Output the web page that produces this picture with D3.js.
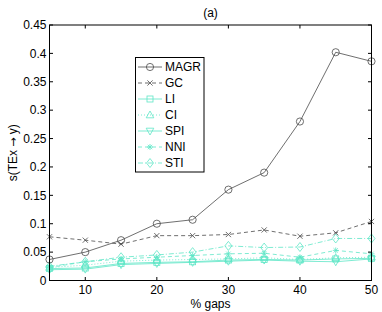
<!DOCTYPE html>
<html><head><meta charset="utf-8">
<script src="https://cdn.jsdelivr.net/npm/d3@7"></script>
<style>body{margin:0;background:#fff}svg{display:block}text{font-family:"Liberation Sans",Arial,sans-serif}</style>
</head><body>
<svg id="c" width="382" height="312"></svg>
<script>
const gaps = [5,10,15,20,25,30,35,40,45,50];
const MAGR = [0.037,0.050,0.071,0.100,0.107,0.160,0.190,0.280,0.402,0.386];
const GC   = [0.077,0.071,0.064,0.079,0.079,0.081,0.089,0.078,0.084,0.104];
const LI   = [0.021,0.022,0.030,0.032,0.033,0.036,0.037,0.036,0.038,0.039];
const CI   = [0.023,0.027,0.034,0.036,0.037,0.038,0.040,0.037,0.040,0.041];
const SPI  = [0.019,0.020,0.028,0.030,0.032,0.034,0.036,0.034,0.033,0.038];
const NNI  = [0.023,0.033,0.038,0.041,0.044,0.047,0.048,0.041,0.053,0.047];
const STI  = [0.025,0.033,0.041,0.045,0.050,0.061,0.058,0.059,0.074,0.074];
const xTicks = [10,20,30,40,50];
const yTicks = [0,0.05,0.1,0.15,0.2,0.25,0.3,0.35,0.4,0.45];
const yTickLabels = ["0","0.05","0.1","0.15","0.2","0.25","0.3","0.35","0.4","0.45"];

const gray = "#4a4a4a", cyan = "#5ee6c6";
const series = [
  {name:"MAGR", v:MAGR, color:gray, dash:null, marker:"circle"},
  {name:"GC", v:GC, color:gray, dash:"4,3", marker:"x"},
  {name:"LI", v:LI, color:cyan, dash:null, marker:"square"},
  {name:"CI", v:CI, color:cyan, dash:"1,2", marker:"tri"},
  {name:"SPI", v:SPI, color:cyan, dash:null, marker:"tridown"},
  {name:"NNI", v:NNI, color:cyan, dash:"4,3", marker:"star"},
  {name:"STI", v:STI, color:cyan, dash:"5,2,1,2", marker:"diamond"}
];

const L=49.5, R=371.5, T=25, B=280.5;
const x = d3.scaleLinear().domain([5,50]).range([L,R]);
const y = d3.scaleLinear().domain([0,0.45]).range([B,T]);
const svg = d3.select("#c");

function drawMarker(g, type, cx, cy, color){
  const s = g.append("g").attr("transform",`translate(${cx},${cy})`)
    .attr("fill","none").attr("stroke",color).attr("stroke-width",0.8);
  if(type==="circle") s.append("circle").attr("r",3.6);
  else if(type==="x") s.append("path").attr("d","M-2.6,-2.6L2.6,2.6M-2.6,2.6L2.6,-2.6");
  else if(type==="square") s.append("rect").attr("x",-3).attr("y",-3).attr("width",6).attr("height",6);
  else if(type==="tri") s.append("path").attr("d","M0,-4L3.8,2.8L-3.8,2.8Z");
  else if(type==="tridown") s.append("path").attr("d","M0,4L3.8,-2.8L-3.8,-2.8Z");
  else if(type==="star") s.append("path").attr("d","M-3,0L3,0M0,-3L0,3M-2.2,-2.2L2.2,2.2M-2.2,2.2L2.2,-2.2");
  else if(type==="diamond") s.append("path").attr("d","M0,-4.5L3.5,0L0,4.5L-3.5,0Z");
}

// series
const line = d3.line().x((d,i)=>x(gaps[i])).y(d=>y(d));
series.slice().reverse().forEach(s=>{
  svg.append("path").datum(s.v).attr("d",line).attr("fill","none")
    .attr("stroke",s.color).attr("stroke-width",0.8)
    .attr("stroke-dasharray",s.dash);
  s.v.forEach((v,i)=>drawMarker(svg,s.marker,x(gaps[i]),y(v),s.color));
});

// axes box and ticks
const ax = svg.append("g");
ax.append("rect").attr("x",L).attr("y",T).attr("width",R-L).attr("height",B-T)
  .attr("fill","none").attr("stroke","#000").attr("stroke-width",1);
const tl = 3.5;
xTicks.forEach(t=>{
  ax.append("line").attr("x1",x(t)).attr("x2",x(t)).attr("y1",B).attr("y2",B-tl).attr("stroke","#000");
  ax.append("line").attr("x1",x(t)).attr("x2",x(t)).attr("y1",T).attr("y2",T+tl).attr("stroke","#000");
  ax.append("text").attr("x",x(t)).attr("y",B+13.5).attr("text-anchor","middle").attr("font-size",12).text(t);
});
yTicks.forEach((t,i)=>{
  ax.append("line").attr("x1",L).attr("x2",L+tl).attr("y1",y(t)).attr("y2",y(t)).attr("stroke","#000");
  ax.append("line").attr("x1",R).attr("x2",R-tl).attr("y1",y(t)).attr("y2",y(t)).attr("stroke","#000");
  ax.append("text").attr("x",L-3).attr("y",y(t)+4.2).attr("text-anchor","end").attr("font-size",12).text(yTickLabels[i]);
});
svg.append("text").attr("x",(L+R)/2).attr("y",307.5).attr("text-anchor","middle").attr("font-size",12).text("% gaps");
svg.append("text").attr("x",(L+R)/2).attr("y",17).attr("text-anchor","middle").attr("font-size",12).text("(a)");
const yl = svg.append("text").attr("transform",`translate(17,${(T+B)/2}) rotate(-90)`).attr("text-anchor","middle").attr("font-size",12);
yl.append("tspan").text("s(TEx ");
yl.append("tspan").attr("font-family","DejaVu Sans").attr("font-size",11).text("\u2192");
yl.append("tspan").text(" y)");

// legend
const lg = svg.append("g");
lg.append("rect").attr("x",135.5).attr("y",57.5).attr("width",68.5).attr("height",114.5)
  .attr("fill","#fff").attr("stroke","#000").attr("stroke-width",1);
series.forEach((s,i)=>{
  const yy = 67 + i*16;
  lg.append("line").attr("x1",138).attr("x2",162).attr("y1",yy).attr("y2",yy)
    .attr("stroke",s.color).attr("stroke-width",0.8).attr("stroke-dasharray",s.dash);
  drawMarker(lg,s.marker,150,yy,s.color);
  lg.append("text").attr("x",165).attr("y",yy+4.3).attr("font-size",12).text(s.name);
});
</script>
</body></html>
